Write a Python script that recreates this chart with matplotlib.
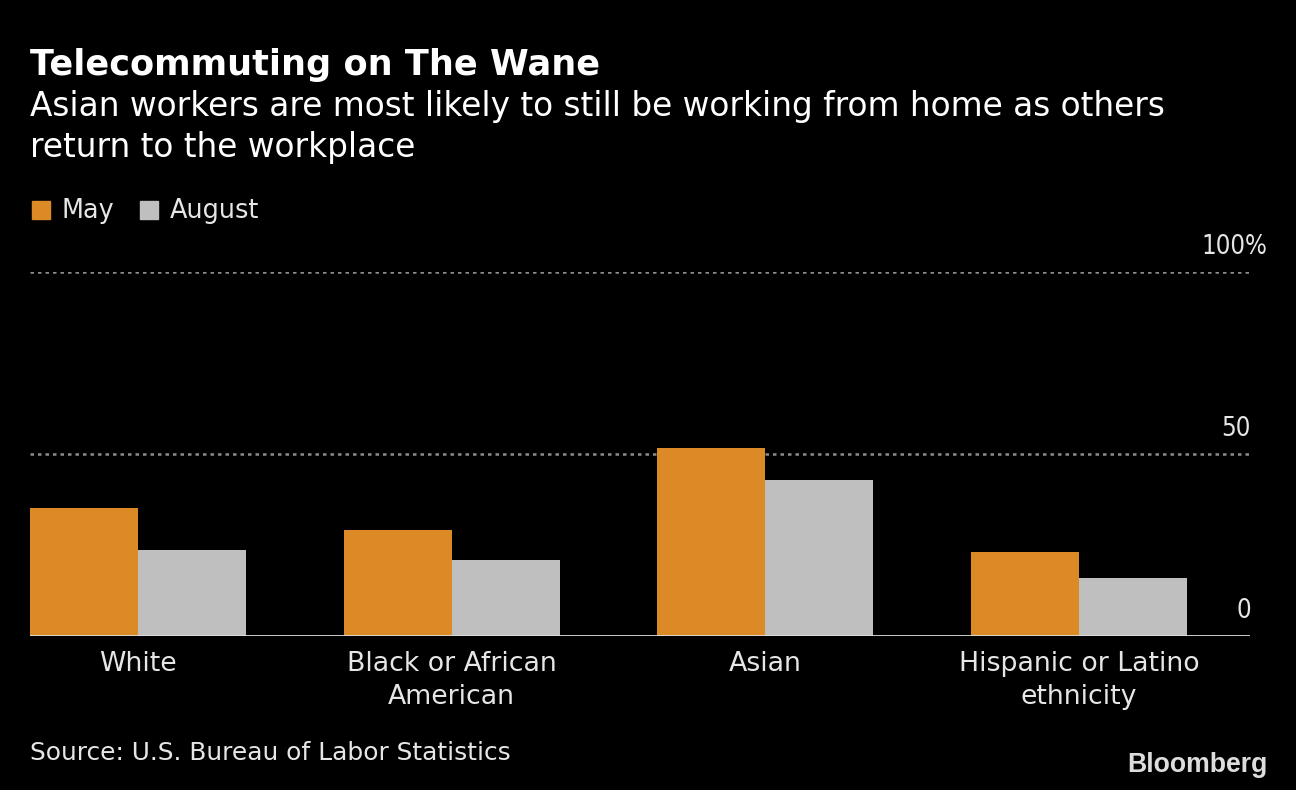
import matplotlib
matplotlib.use("Agg")
import matplotlib.pyplot as plt
from matplotlib.patches import Rectangle
import numpy as np

categories = ["White", "Black or African\nAmerican", "Asian", "Hispanic or Latino\nethnicity"]
may = [35.2, 29.2, 51.7, 23.1]
august = [23.7, 20.9, 42.9, 16.0]
series_names = ["May", "August"]
yticks = [0, 50, 100]
ytick_labels = ["0", "50", "100%"]

ORANGE = "#DC8A26"
GREY = "#BFBFBF"
TEXT = "#E6E6E6"
FONT = dict(family="DejaVu Sans")
COND = dict(family="DejaVu Sans", stretch="condensed")

W, H = 1296, 790
fig = plt.figure(figsize=(W / 100, H / 100), dpi=100, facecolor="black")

left, right = 30, 1250
y0, y100 = 636, 272
ax = fig.add_axes([left / W, 1 - y0 / H, (right - left) / W, (y0 - y100) / H])
ax.set_facecolor("black")

x = np.arange(len(categories))
bw = 0.344
ax.bar(x - bw / 2, may, width=bw, color=ORANGE, zorder=2)
ax.bar(x + bw / 2, august, width=bw, color=GREY, zorder=2)
ax.set_xlim(-bw, x[-1] + 0.545)
ax.set_ylim(0, 100)

for v in yticks[1:]:
    ax.axhline(v, color="#8c8c8c", lw=1.8, ls=(0, (1.4, 1.6)), zorder=1)
ax.axhline(0, color="#DDDDDD", lw=2, zorder=3)

for s in ax.spines.values():
    s.set_visible(False)
ax.set_yticks([])
ax.set_xticks(x)
ax.set_xticklabels(categories, color=TEXT, fontsize=19.3, linespacing=1.33, **FONT)
ax.tick_params(axis="x", length=0, pad=11)

# right-side value labels
for v, lab in zip(yticks, ytick_labels):
    ax.annotate(lab, xy=(1, v), xycoords=("axes fraction", "data"),
                xytext=(1 if lab != "100%" else 17, 12), textcoords="offset pixels",
                ha="right", va="bottom", color=TEXT, fontsize=18.5, **COND)

fig.text(30 / W, 1 - 75 / H, "Telecommuting on The Wane", color="white",
         fontsize=25.3, fontweight="bold", va="baseline", ha="left", **FONT)
fig.text(30 / W, 1 - 116 / H, "Asian workers are most likely to still be working from home as others",
         color="white", fontsize=23.6, va="baseline", ha="left", **FONT)
fig.text(30 / W, 1 - 157 / H, "return to the workplace",
         color="white", fontsize=23.6, va="baseline", ha="left", **FONT)

# legend
lx = [32, 140]
for i, (name, col) in enumerate(zip(series_names, [ORANGE, GREY])):
    fig.patches.append(Rectangle((lx[i] / W, 1 - 219 / H), 18 / W, 18 / H,
                                 transform=fig.transFigure, color=col))
    fig.text((lx[i] + 30) / W, 1 - 218 / H, name, color=TEXT, fontsize=18.4,
             va="baseline", ha="left", **FONT)

fig.text(30 / W, 1 - 760 / H, "Source: U.S. Bureau of Labor Statistics", color=TEXT,
         fontsize=17.9, va="baseline", ha="left", **FONT)
fig.text(1268 / W, 1 - 765 / H, "Bloomberg", color="#DDDDDD", fontsize=19.2,
         fontweight="bold", va="center", ha="right", family="Liberation Sans")

fig.savefig("out.png", dpi=100, facecolor="black")
